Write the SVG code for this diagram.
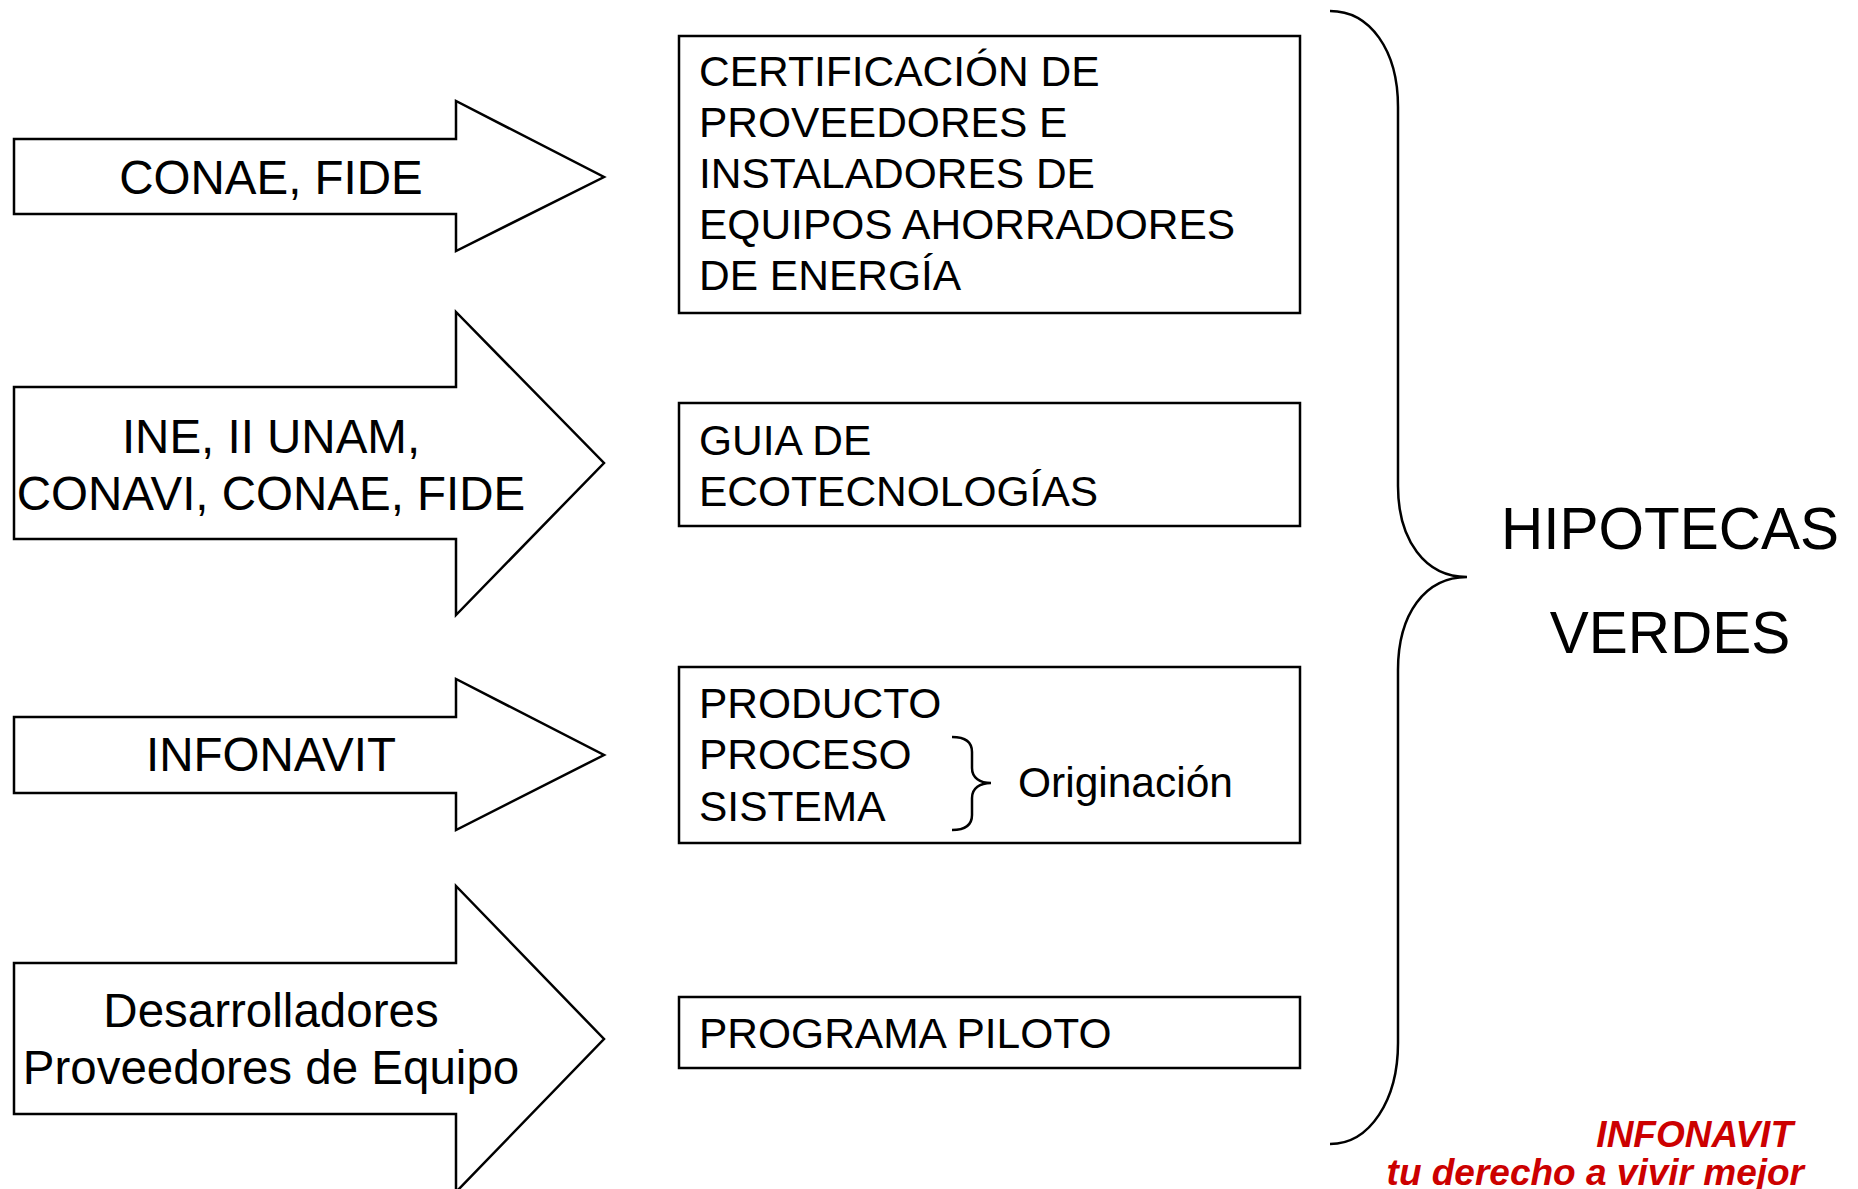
<svg xmlns="http://www.w3.org/2000/svg" width="1858" height="1189" viewBox="0 0 1858 1189">
<style>
.shape{fill:#fff;stroke:#000;stroke-width:2.5}
.line{fill:none;stroke:#000;stroke-width:2.5}
.at{font-family:"Liberation Sans",Arial,sans-serif;font-size:47.5px;fill:#000;text-anchor:middle}
.bt{font-family:"Liberation Sans",Arial,sans-serif;font-size:42.5px;fill:#000}
.big{font-family:"Liberation Sans",Arial,sans-serif;font-size:58.5px;fill:#000;text-anchor:middle}
.red{font-family:"Liberation Sans",Arial,sans-serif;font-weight:bold;font-style:italic;fill:#CC0000;text-anchor:end}
</style>
<rect width="1858" height="1189" fill="#fff"/>
<g id="arrow-conae">
<path class="shape" d="M14,139 H456 V101 L604,177 L456,251 V214 H14 Z"/>
<text class="at" x="271" y="194">CONAE, FIDE</text>
</g>
<g id="arrow-ine">
<path class="shape" d="M14,387 H456 V312 L604,463 L456,615 V539 H14 Z"/>
<text class="at" x="271" y="453">INE, II UNAM,</text>
<text class="at" x="271" y="510">CONAVI, CONAE, FIDE</text>
</g>
<g id="arrow-infonavit">
<path class="shape" d="M14,717 H456 V679 L604,755 L456,830 V793 H14 Z"/>
<text class="at" x="271" y="771">INFONAVIT</text>
</g>
<g id="arrow-desarrolladores">
<path class="shape" d="M14,963 H456 V886 L604,1039 L456,1192 V1114 H14 Z"/>
<text class="at" x="271" y="1027">Desarrolladores</text>
<text class="at" x="271" y="1084">Proveedores de Equipo</text>
</g>
<g id="box-certificacion">
<rect class="shape" x="679" y="36" width="621" height="277"/>
<text class="bt" x="699" y="86">CERTIFICACIÓN DE</text>
<text class="bt" x="699" y="137">PROVEEDORES E</text>
<text class="bt" x="699" y="188">INSTALADORES DE</text>
<text class="bt" x="699" y="239">EQUIPOS AHORRADORES</text>
<text class="bt" x="699" y="290">DE ENERGÍA</text>
</g>
<g id="box-guia">
<rect class="shape" x="679" y="403" width="621" height="123"/>
<text class="bt" x="699" y="455">GUIA DE</text>
<text class="bt" x="699" y="506">ECOTECNOLOGÍAS</text>
</g>
<g id="box-producto">
<rect class="shape" x="679" y="667" width="621" height="176"/>
<text class="bt" x="699" y="718">PRODUCTO</text>
<text class="bt" x="699" y="769">PROCESO</text>
<text class="bt" x="699" y="821">SISTEMA</text>
<path class="line" d="M952,737 C966,737 972,742 972,752 V768 C972,778 980,783 991,783 C980,783 972,788 972,798 V815 C972,825 966,830 952,830"/>
<text class="bt" x="1018" y="797">Originación</text>
</g>
<g id="box-piloto">
<rect class="shape" x="679" y="997" width="621" height="71"/>
<text class="bt" x="699" y="1048">PROGRAMA PILOTO</text>
</g>
<g id="connectors">
<path class="line" d="M1330,11 C1370,11 1398,50 1398,107 V486 C1398,540 1425,577 1467,577 C1425,577 1398,614 1398,670 V1043 C1398,1100 1370,1144 1330,1144"/>
</g>
<g id="title">
<text class="big" x="1670" y="549">HIPOTECAS</text>
<text class="big" x="1670" y="653">VERDES</text>
</g>
<g id="logo">
<text class="red" x="1793" y="1147" font-size="37">INFONAVIT</text>
<text class="red" x="1804" y="1185" font-size="37">tu derecho a vivir mejor</text>
</g>
</svg>
